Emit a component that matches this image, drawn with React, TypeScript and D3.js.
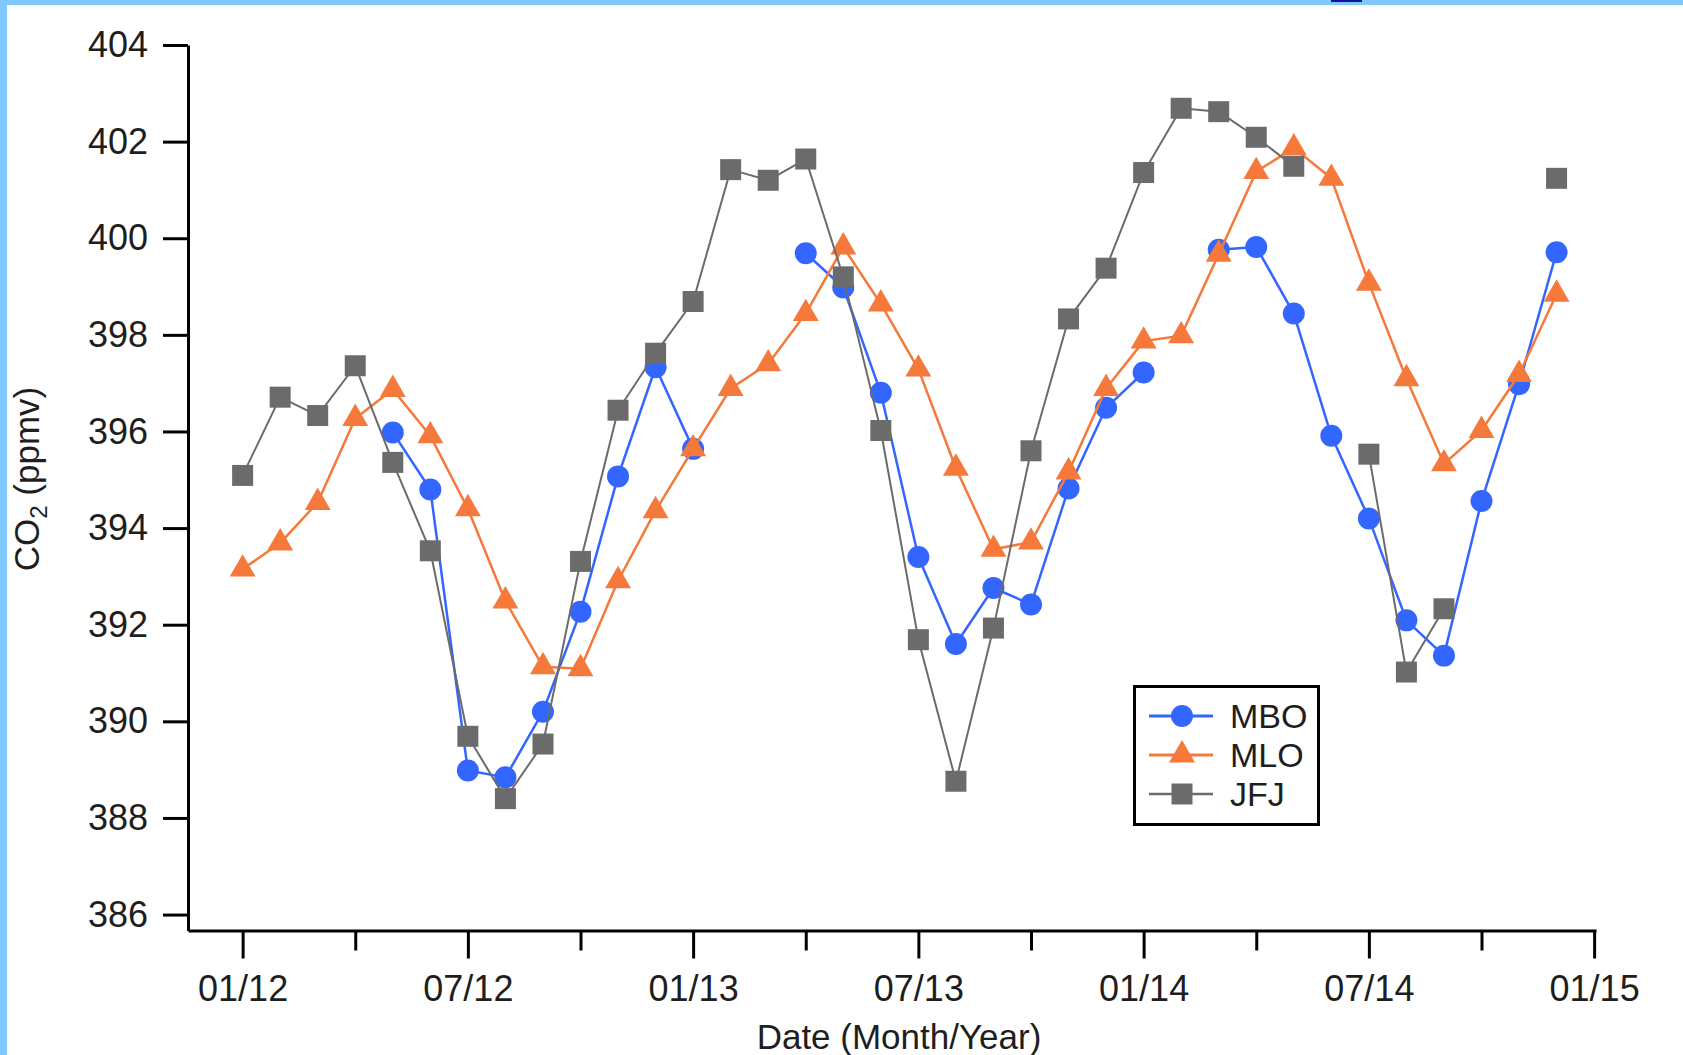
import { useEffect, useRef } from 'react';
import * as d3 from 'd3';

// month index 0 = 01/12, one point per month, null = no data
const mbo = [null, null, null, null, 395.98, 394.8, 388.98, 388.84, 390.2, 392.27, 395.07, 397.33, 395.64, null, null, 399.69, 398.98, 396.8, 393.4, 391.6, 392.76, 392.42, 394.82, 396.49, 397.22, null, 399.76, 399.82, 398.44, 395.91, 394.2, 392.09, 391.36, 394.56, 396.98, 399.71];
const mlo = [393.15, 393.69, 394.53, 396.27, 396.87, 395.91, 394.4, 392.49, 391.13, 391.09, 392.91, 394.36, 395.64, 396.89, 397.4, 398.44, 399.82, 398.64, 397.29, 395.24, 393.56, 393.71, 395.16, 396.89, 397.87, 397.98, 399.67, 401.38, 401.87, 401.24, 399.07, 397.09, 395.33, 396.02, 397.18, 398.84];
const jfj = [395.09, 396.71, 396.33, 397.36, 395.36, 393.53, 389.69, 388.4, 389.53, 393.31, 396.44, 397.62, 398.69, 401.42, 401.2, 401.64, 399.2, 396.02, 391.69, 388.76, 391.93, 395.6, 398.33, 399.38, 401.36, 402.69, 402.62, 402.09, 401.49, null, 395.53, 391.02, 392.33, null, null, 401.24];

const seriesNames = ['MBO', 'MLO', 'JFJ'];
const xTickLabels = ['01/12', '07/12', '01/13', '07/13', '01/14', '07/14', '01/15'];
const yTicks = [386, 388, 390, 392, 394, 396, 398, 400, 402, 404];

export default function App() {
  const ref = useRef<SVGSVGElement>(null);

  useEffect(() => {
    document.body.style.margin = '0';
    document.body.style.overflow = 'hidden';

    const svg = d3.select(ref.current);
    svg.selectAll('*').remove();

    const font = '"Liberation Sans", Arial, Helvetica, sans-serif';
    const ink = '#1e1e1e';

    // page frame
    svg.append('rect').attr('width', 1683).attr('height', 1055).attr('fill', '#fff');
    svg.append('rect').attr('width', 7).attr('height', 1055).attr('fill', '#80c8ff');
    svg.append('rect').attr('width', 1683).attr('height', 5).attr('fill', '#80c8ff');
    svg.append('rect').attr('x', 1331).attr('width', 31).attr('height', 2).attr('fill', '#12129c');

    const x = d3.scaleLinear().domain([-1.455, 36.05]).range([188, 1596]);
    const y = d3.scaleLinear().domain([385.67, 404]).range([930.5, 45]);

    // y axis
    const gy = svg.append('g')
      .attr('transform', 'translate(188,0)')
      .call(d3.axisLeft(y).tickValues(yTicks).tickSize(25).tickSizeOuter(0).tickPadding(15).tickFormat(d3.format('d')));
    gy.attr('font-size', 36).attr('font-family', font);
    gy.selectAll('path, line').attr('stroke', '#000').attr('stroke-width', 3);
    gy.selectAll('text').attr('fill', ink);

    // x axis: minor ticks every 3 months, labelled ticks every 6
    const gxMinor = svg.append('g')
      .attr('transform', 'translate(0,930.5)')
      .call(d3.axisBottom(x).tickValues(d3.range(3, 36, 6)).tickSize(20).tickFormat(() => ''));
    gxMinor.select('.domain').remove();
    gxMinor.selectAll('line').attr('stroke', '#000').attr('stroke-width', 3);

    const gx = svg.append('g')
      .attr('transform', 'translate(0,930.5)')
      .call(d3.axisBottom(x).tickValues(d3.range(0, 37, 6)).tickSize(28).tickSizeOuter(0).tickPadding(17)
        .tickFormat((d, i) => xTickLabels[i]));
    gx.attr('font-size', 36).attr('font-family', font);
    gx.selectAll('path, line').attr('stroke', '#000').attr('stroke-width', 3);
    gx.selectAll('text').attr('fill', ink);

    // axis titles
    svg.append('text')
      .attr('x', 899)
      .attr('y', 1049)
      .attr('text-anchor', 'middle')
      .attr('font-size', 35)
      .attr('font-family', font)
      .attr('fill', ink)
      .text('Date (Month/Year)');

    const yt = svg.append('text')
      .attr('transform', 'translate(39,479) rotate(-90)')
      .attr('text-anchor', 'middle')
      .attr('font-size', 35)
      .attr('font-family', font)
      .attr('fill', ink);
    yt.append('tspan').text('CO');
    yt.append('tspan').attr('dy', 8).attr('font-size', 24).text('2');
    yt.append('tspan').attr('dy', -8).text(' (ppmv)');

    const series = [
      { name: seriesNames[0], values: mbo, color: '#3366ff', width: 2.5, symbol: d3.symbolCircle, size: 380 },
      { name: seriesNames[1], values: mlo, color: '#f5793a', width: 2.5, symbol: d3.symbolTriangle, size: 290 },
      { name: seriesNames[2], values: jfj, color: '#6b6b6b', width: 2, symbol: d3.symbolSquare, size: 441 },
    ];

    const line = d3.line<number | null>()
      .defined((d) => d != null)
      .x((d, i) => x(i))
      .y((d) => y(d as number));

    series.forEach((s) => {
      const g = svg.append('g');
      g.append('path')
        .datum(s.values)
        .attr('d', line)
        .attr('fill', 'none')
        .attr('stroke', s.color)
        .attr('stroke-width', s.width)
        .attr('stroke-linejoin', 'round');

      g.selectAll('.mark')
        .data(s.values.map((v, i) => ({ v, i })).filter((d) => d.v != null))
        .enter()
        .append('path')
        .attr('class', 'mark')
        .attr('d', d3.symbol().type(s.symbol).size(s.size)())
        .attr('transform', (d) => `translate(${x(d.i)},${y(d.v as number)})`)
        .attr('fill', s.color);
    });

    // legend
    const lg = svg.append('g');
    lg.append('rect')
      .attr('x', 1134.5)
      .attr('y', 686.5)
      .attr('width', 184)
      .attr('height', 138)
      .attr('fill', '#fff')
      .attr('stroke', '#000')
      .attr('stroke-width', 3);

    const rowY = [716, 755, 794];
    series.forEach((s, i) => {
      lg.append('line')
        .attr('x1', 1149)
        .attr('x2', 1213)
        .attr('y1', rowY[i])
        .attr('y2', rowY[i])
        .attr('stroke', s.color)
        .attr('stroke-width', s.width + 0.5);
      lg.append('path')
        .attr('d', d3.symbol().type(s.symbol).size(s.size)())
        .attr('transform', `translate(1182,${rowY[i]})`)
        .attr('fill', s.color);
      lg.append('text')
        .attr('x', 1230)
        .attr('y', rowY[i])
        .attr('dy', '0.36em')
        .attr('font-size', 34)
        .attr('font-family', font)
        .attr('fill', ink)
        .text(s.name);
    });
  }, []);

  return <svg ref={ref} width={1683} height={1055} style={{ display: 'block' }} />;
}
